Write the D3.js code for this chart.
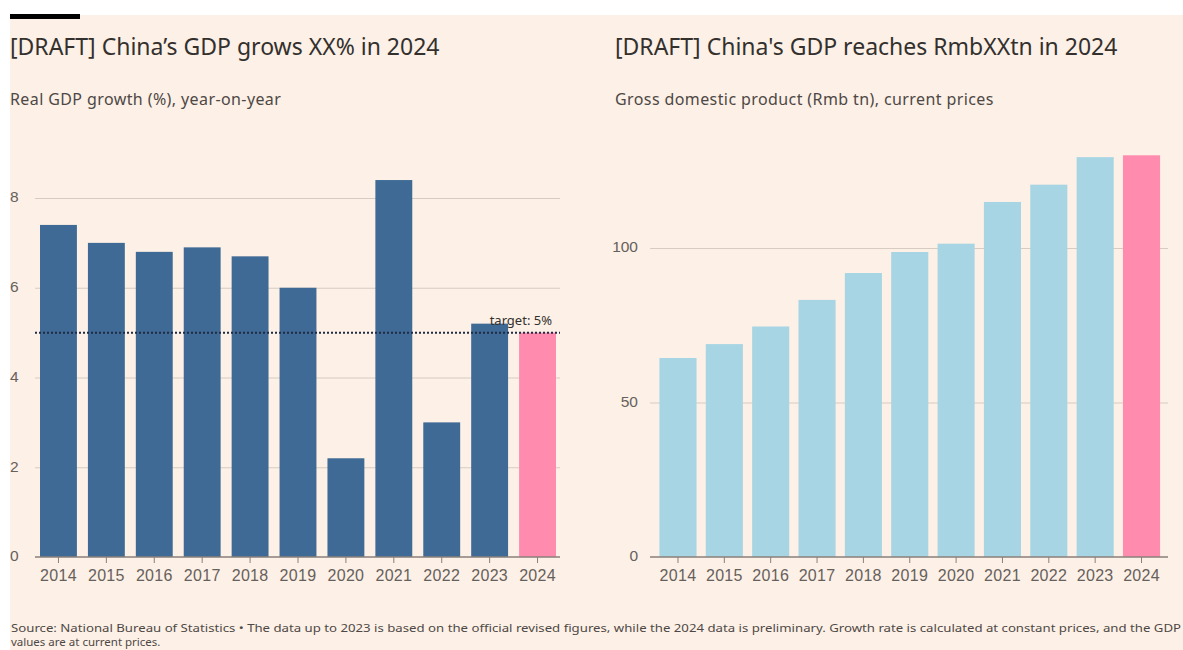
<!DOCTYPE html>
<html>
<head>
<meta charset="utf-8">
<script src="https://cdn.jsdelivr.net/npm/d3@7"></script>
<style>
  body { margin: 0; background: #fff; }
  svg { display: block; font-family: "Noto Sans", sans-serif; }
  .axis path { display: none; }
  .axis text { fill: #66605c; }
</style>
</head>
<body>
<div class="render"></div>
<script>
'use strict';

var years = ['2014', '2015', '2016', '2017', '2018', '2019', '2020', '2021', '2022', '2023', '2024'];
var growth = [7.4, 7.0, 6.8, 6.9, 6.7, 6.0, 2.2, 8.4, 3.0, 5.2, 5.0];
var gdp = [64.4, 68.9, 74.6, 83.2, 91.9, 98.7, 101.4, 114.9, 120.5, 129.4, 130.0];
var growthTicks = [0, 2, 4, 6, 8];
var gdpTicks = [0, 50, 100];
var target = 5;

var w = 1183;
var h = 650;
var svg = d3.select('.render').append('svg').attr('width', w).attr('height', h);

svg.append('rect').attr('x', 10).attr('y', 15).attr('width', w - 10).attr('height', h - 15).attr('fill', '#fdf0e6');
svg.append('rect').attr('x', 10).attr('y', 14).attr('width', 70).attr('height', 5).attr('fill', '#000');

function titles(x, title, sub) {
   svg.append('text').text(title).attr('x', x).attr('y', 55).style('font-size', '23px').attr('fill', '#33302e');
   svg.append('text').text(sub).attr('x', x).attr('y', 105).style('font-size', '16px').style('letter-spacing', '0.4px').attr('fill', '#4d4845');
}

titles(10, '[DRAFT] China\u2019s GDP grows XX% in 2024', 'Real GDP growth (%), year-on-year');
titles(615, '[DRAFT] China\'s GDP reaches RmbXXtn in 2024', 'Gross domestic product (Rmb tn), current prices');

function chart(opt) {
   var x = d3.scaleBand().domain(years).range(opt.xr).paddingInner(opt.pad).paddingOuter(opt.pad / 2);
   var y = d3.scaleLinear().domain(opt.yd).range([557, opt.ytop]);

   // grid lines
   var gy = svg.append('g').attr('class', 'axis').attr('transform', 'translate(' + opt.gx[1] + ',0)');
   gy.call(d3.axisRight(y).tickValues(opt.ticks).tickSize(-(opt.gx[1] - opt.gx[0])).tickFormat(''));
   gy.selectAll('line').attr('stroke', '#d6ccc2').attr('stroke-width', 1);
   gy.selectAll('.tick').filter(function (d) { return d === 0; }).remove();

   // y labels
   var gl = svg.append('g').attr('class', 'axis').attr('transform', 'translate(' + opt.gx[0] + ',0)');
   gl.call(d3.axisLeft(y).tickValues(opt.ticks).tickSize(0));
   gl.selectAll('text').attr('x', opt.labelX).style('text-anchor', opt.anchor).style('font-size', '15.5px').attr('dy', '0.25em');

   svg.selectAll(null).data(opt.values).enter().append('rect')
      .attr('x', function (d, i) { return x(years[i]); })
      .attr('y', function (d) { return y(d); })
      .attr('width', x.bandwidth())
      .attr('height', function (d) { return y(0) - y(d); })
      .attr('fill', function (d, i) { return i === years.length - 1 ? '#ff8bae' : opt.color; });

   svg.append('line').attr('x1', opt.gx[0]).attr('x2', opt.gx[1]).attr('y1', y(0)).attr('y2', y(0)).attr('stroke', '#8a817a').attr('stroke-width', 1.5);

   var gx = svg.append('g').attr('class', 'axis').attr('transform', 'translate(0,' + y(0) + ')');
   gx.call(d3.axisBottom(x).tickSize(6).tickPadding(7));
   gx.selectAll('line').attr('stroke', '#8a817a');
   gx.selectAll('text').style('font-size', '16px').style('letter-spacing', '0.3px');
   return { x: x, y: y };
}

var left = chart({ xr: [34.5, 561.5], pad: 0.23, yd: [0, 8], ytop: 198, ticks: growthTicks, gx: [35, 560], labelX: -25, anchor: 'start', values: growth, color: '#3f6a96' });

svg.append('line').attr('x1', 35).attr('x2', 560).attr('y1', left.y(target)).attr('y2', left.y(target))
   .attr('stroke', '#1f2b44').attr('stroke-width', 2).attr('stroke-dasharray', '2,2');
svg.append('text').text('target: 5%').attr('x', 552).attr('y', left.y(target) - 8).style('text-anchor', 'end').style('font-size', '13px').attr('fill', '#33302e');

var right = chart({ xr: [654.8, 1164.7], pad: 0.2, yd: [0, 100], ytop: 248, ticks: gdpTicks, gx: [650, 1168], labelX: -12, anchor: 'end', values: gdp, color: '#a7d5e4' });

svg.append('text').text('Source: National Bureau of Statistics \u2022 The data up to 2023 is based on the official revised figures, while the 2024 data is preliminary. Growth rate is calculated at constant prices, and the GDP')
   .attr('x', 11).attr('y', 632).attr('textLength', 1170).attr('lengthAdjust', 'spacingAndGlyphs').style('font-size', '11.5px').attr('fill', '#4d4845');
svg.append('text').text('values are at current prices.').attr('x', 11).attr('y', 646).style('font-size', '11.5px').attr('fill', '#4d4845');
</script>
</body>
</html>
